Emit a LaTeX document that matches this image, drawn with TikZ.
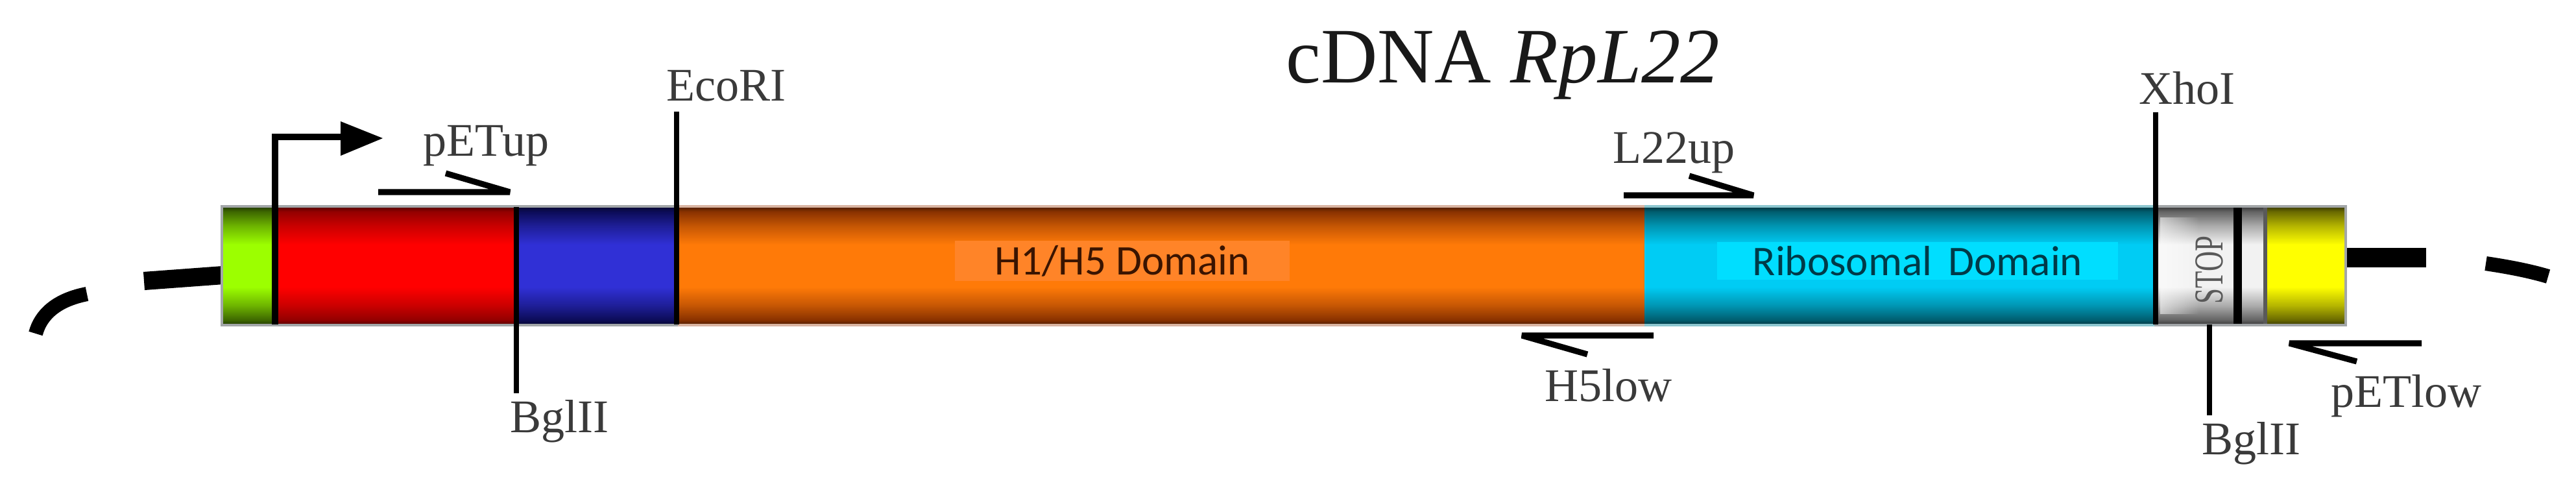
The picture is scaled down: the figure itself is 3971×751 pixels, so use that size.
\documentclass[tikz,border=0pt]{standalone}
\usepackage{fontspec}
\setmainfont{Liberation Serif}
\newfontfamily\calib{Carlito}
\usetikzlibrary{fadings}

\definecolor{gD}{HTML}{3E6800}\definecolor{gM}{HTML}{9CFF00}
\definecolor{rD}{HTML}{940000}\definecolor{rM}{HTML}{FF0000}
\definecolor{bD}{HTML}{0C0C58}\definecolor{bM}{HTML}{3030D6}
\definecolor{oD}{HTML}{8A3200}\definecolor{oM}{HTML}{FF7A08}
\definecolor{cD}{HTML}{005E70}\definecolor{cM}{HTML}{00CCF4}
\definecolor{sD}{HTML}{646464}\definecolor{sM}{HTML}{F2F2F2}
\definecolor{yD}{HTML}{6A6A00}\definecolor{yM}{HTML}{FFFF00}
\definecolor{bordergray}{HTML}{A2A6A8}
\definecolor{borderO}{HTML}{D9B4A2}
\definecolor{borderC}{HTML}{8CC6CF}
\definecolor{labelgray}{HTML}{3A3A3A}
\definecolor{oLab}{HTML}{FF8428}
\definecolor{cLab}{HTML}{00DEFF}
\definecolor{oTxt}{HTML}{3A1400}
\definecolor{cTxt}{HTML}{003A48}

\newcommand{\mkshade}[3]{%
  \colorlet{#1q}{#2!50!#3}%
  \colorlet{#1e}{#2!60!black}%
  \pgfdeclareverticalshading{#1}{100bp}{color(0bp)=(#1e); color(25bp)=(#1e); color(27bp)=(#2); color(33bp)=(#1q); color(41bp)=(#3); color(59bp)=(#3); color(67bp)=(#1q); color(73bp)=(#2); color(75bp)=(#1e); color(100bp)=(#1e)}}
\mkshade{gsh}{gD}{gM}
\mkshade{rsh}{rD}{rM}
\mkshade{bsh}{bD}{bM}
\mkshade{osh}{oD}{oM}
\mkshade{csh}{cD}{cM}
\mkshade{ssh}{sD}{sM}
\mkshade{ysh}{yD}{yM}

\begin{document}
\begin{tikzpicture}[x=0.01cm,y=-0.01cm,
  lbl/.style={font=\fontsize{20.5pt}{24pt}\selectfont, text=labelgray, inner sep=0pt, anchor=base west},
  site/.style={line width=2.2pt, black},
  primer/.style={line width=2.6pt, black, line join=bevel},
  dnaline/.style={line width=8pt, black},
  domlbl/.style={font=\calib\fontsize{18.5pt}{22pt}\selectfont, inner sep=0pt, minimum height=0.62cm}]
\useasboundingbox (0,0) rectangle (3971,751);

% plasmid backbone pieces
\draw[line width=6.3pt, black] (55,514) .. controls (63,484) and (88,462) .. (134,453);
\draw[dnaline] (222,433) -- (344,424);
\draw[dnaline, line width=8.5pt] (3614,397) -- (3740,397);
\draw[line width=6.3pt, black] (3832,406) .. controls (3865,411) and (3898,417) .. (3928,426);

% bar segments
\shade[shading=gsh] (342,319) rectangle (424,500);
\shade[shading=rsh] (424,319) rectangle (796,500);
\shade[shading=bsh] (796,319) rectangle (1043,500);
\shade[shading=osh] (1043,319) rectangle (2535,500);
\shade[shading=csh] (2535,319) rectangle (3324,500);
\shade[shading=ssh] (3324,319) rectangle (3443,500);
\fill[black] (3443,319) rectangle (3456,500);
\shade[shading=ssh] (3456,319) rectangle (3489,500);
\fill[black!65] (3489,319) rectangle (3495,500);
\shade[shading=ysh] (3495,319) rectangle (3616,500);
\fill[white, opacity=0.55, path fading=east] (3330,335) rectangle (3390,484);

% outline
\draw[bordergray, line width=1.4pt] (342,318) rectangle (3616,501);
\draw[borderO, line width=1.4pt] (1045,318) -- (2535,318) (1045,501) -- (2535,501);
\draw[borderC, line width=1.4pt] (2535,318) -- (3321,318) (2535,501) -- (3321,501);

% domain labels
\node[domlbl, fill=oLab, text=oTxt, minimum width=5.16cm] (h1) at (1730,402) {H1/H5 Domain};
\node[domlbl, fill=cLab, text=cTxt, minimum width=6.18cm, minimum height=0.58cm] (ribo) at (2956,402) {Ribosomal\, Domain};
\node[rotate=90, inner sep=0pt, text=black!65, font=\fontsize{18pt}{20pt}\selectfont] (stop) at (3406,416) {\scalebox{0.68}[1]{STOP}};

% promoter arrow
\coordinate (promBase) at (424,500);
\coordinate (promCorner) at (424,211);
\coordinate (promTip) at (590,213);
\draw[line width=2.6pt, black] (promBase) -- (promCorner) -- (530,211);
\fill[black] (525,187) -- (promTip) -- (525,240) -- cycle;

% title
\node[anchor=base west, inner sep=0pt, font=\fontsize{34.4pt}{40pt}\selectfont, text=black!90] (title) at (1982,127) {cDNA \textit{RpL22}};

% restriction sites
\node[lbl] (eco) at (1027,155) {EcoRI};
\node[lbl] (xho) at (3297,160) {XhoI};
\node[lbl] (bgl1) at (786,666) {BglII};
\node[lbl] (bgl2) at (3394,700) {BglII};
\coordinate (ecoTop) at (1043,172); \coordinate (ecoBot) at (1043,500);
\coordinate (xhoTop) at (3323,173); \coordinate (xhoBot) at (3323,500);
\coordinate (bgl1Top) at (796,319); \coordinate (bgl1Bot) at (796,606);
\coordinate (bgl2Top) at (3406,500); \coordinate (bgl2Bot) at (3406,640);
\draw[site] (ecoTop) -- (ecoBot);
\draw[site] (xhoTop) -- (xhoBot);
\draw[site] (bgl1Top) -- (bgl1Bot);
\draw[site] (bgl2Top) -- (bgl2Bot);

% primers
\node[lbl] (petup) at (652,240) {pETup};
\node[lbl] (l22up) at (2486,251) {L22up};
\node[lbl] (h5low) at (2381,618) {H5low};
\node[lbl] (petlow) at (3593,627) {pETlow};
\draw[primer] (583,296) -- (786,296) -- (687,267);
\draw[primer] (2503,301) -- (2703,301) -- (2604,271);
\draw[primer] (2549,517) -- (2346,517) -- (2447,546);
\draw[primer] (3733,529) -- (3529,529) -- (3633,557);
\end{tikzpicture}
\end{document}
